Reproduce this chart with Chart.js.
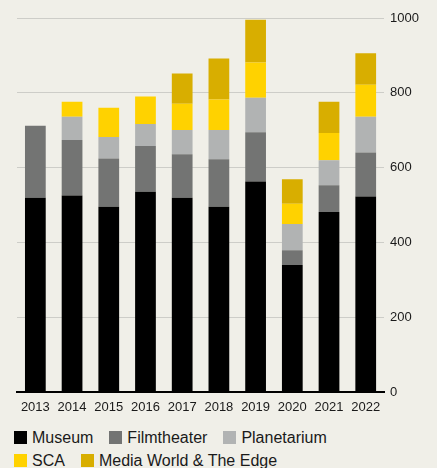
<!DOCTYPE html>
<html>
<head>
<meta charset="utf-8">
<script src="https://cdn.jsdelivr.net/npm/chart.js@4/dist/chart.umd.min.js"></script>
<style>
  body { margin: 0; background: #f0efe8; font-family: "Liberation Sans", Arial, sans-serif; }
  #wrap { width: 437px; height: 468px; position: relative; }
  #box { width: 437px; height: 424px; }
  #legend { position: absolute; left: 14px; top: 426px; width: 345px; display: flex; flex-wrap: wrap; }
  .item { display: flex; align-items: center; margin-right: 16px; height: 23px; font-size: 16px; color: #1a1a1a; }
  .sw { width: 13px; height: 13px; margin-right: 5px; }
</style>
</head>
<body>
<div id="wrap">
  <div id="box"><canvas id="charts"></canvas></div>
  <div id="legend"></div>
</div>
<script>
// years on the x axis
const years = ['2013', '2014', '2015', '2016', '2017', '2018', '2019', '2020', '2021', '2022'];

// visitors per part (thousands)
const museum = [520, 526, 496, 536, 520, 496, 563, 340, 482, 523];
const filmtheater = [192, 148, 129, 122, 116, 127, 132, 40, 71, 118];
const planetarium = [0, 62, 57, 59, 65, 78, 92, 70, 67, 95];
const sca = [0, 40, 78, 73, 70, 81, 94, 54, 73, 86];
const mediaWorld = [0, 0, 0, 0, 81, 110, 114, 65, 83, 84];

const yTicks = [0, 200, 400, 600, 800, 1000];

const series = [
  { label: 'Museum', data: museum, color: '#000000' },
  { label: 'Filmtheater', data: filmtheater, color: '#737473' },
  { label: 'Planetarium', data: planetarium, color: '#b1b3b3' },
  { label: 'SCA', data: sca, color: '#ffd200' },
  { label: 'Media World & The Edge', data: mediaWorld, color: '#d8ae00' }
];

const font = { family: '"Liberation Sans", Arial, sans-serif', size: 13 };

let ctx = document.getElementById('charts').getContext('2d');
window.chart = new Chart(ctx, {
  type: 'bar',
  data: {
    labels: years,
    datasets: series.map(s => ({
      label: s.label,
      data: s.data,
      backgroundColor: s.color,
      borderWidth: 0,
      barPercentage: 0.565,
      categoryPercentage: 1
    }))
  },
  options: {
    responsive: true,
    maintainAspectRatio: false,
    animation: false,
    layout: { padding: { left: 17, right: 12, top: 18, bottom: 2 } },
    plugins: {
      legend: { display: false },
      tooltip: { enabled: false }
    },
    scales: {
      x: {
        stacked: true,
        grid: { display: false, drawTicks: false },
        border: { display: true, color: '#000000', width: 2 },
        ticks: { color: '#1a1a1a', font: font, padding: 7, maxRotation: 0 }
      },
      y: {
        stacked: true,
        position: 'right',
        min: 0,
        max: 1000,
        afterBuildTicks: axis => { axis.ticks = yTicks.map(v => ({ value: v })); },
        grid: {
          drawTicks: false,
          color: c => c.tick && c.tick.value === 0 ? '#000000' : '#cdcdc8',
          lineWidth: c => c.tick && c.tick.value === 0 ? 2 : 1
        },
        border: { display: false },
        ticks: { color: '#1a1a1a', font: font, padding: 6, callback: v => String(v) }
      }
    }
  }
});

// legend in two rows, like the original
const legend = document.getElementById('legend');
series.forEach(s => {
  const item = document.createElement('div');
  item.className = 'item';
  const sw = document.createElement('span');
  sw.className = 'sw';
  sw.style.background = s.color;
  item.appendChild(sw);
  item.appendChild(document.createTextNode(s.label));
  legend.appendChild(item);
});
</script>
</body>
</html>
